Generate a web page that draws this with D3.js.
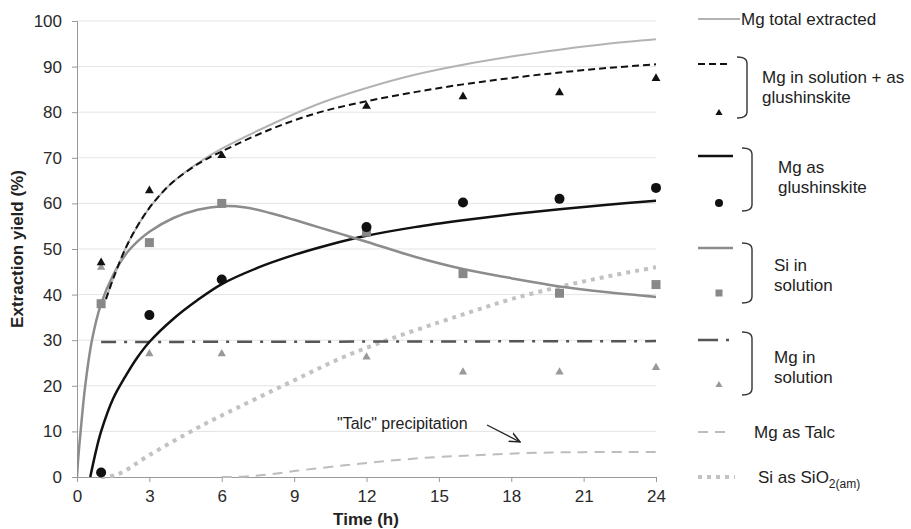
<!DOCTYPE html>
<html>
<head>
<meta charset="utf-8">
<script src="https://cdn.jsdelivr.net/npm/d3@7"></script>
<style>
  body { margin: 0; background: #fff; }
  svg { font-family: "Liberation Sans", Arial, sans-serif; }
</style>
</head>
<body>
<svg id="chart" width="911" height="529"></svg>
<script>
// measured points (h, %)
const times = [1, 3, 6, 12, 16, 20, 24];
const mgSolGlushPts = [47, 62.8, 70.5, 81.3, 83.4, 84.3, 87.4];
const mgGlushPts = [1, 35.5, 43.3, 54.8, 60.2, 61, 63.4];
const siSolPts = [38, 51.4, 60, 53.7, 44.6, 40.3, 42.2];
const mgSolPts = [46, 27, 27, 26.3, 23, 23, 24];

// fitted curves, [h, %]
const mgTotalFit = [[1.2,39],[1.5,43.5],[2,50],[2.5,55],[3,59],[3.5,62.2],[4,64.8],[5,68.8],[6,72],[8,77.2],[10,81.8],[12,85.3],[14,88.2],[16,90.4],[18,92.2],[20,93.7],[22,95],[24,96]];
const mgSolGlushFit = [[1.2,39],[1.5,43.5],[2,50],[2.5,55],[3,59],[3.5,62.2],[4,64.8],[5,68.6],[6,71.4],[8,76.2],[10,79.9],[12,82.4],[14,84.4],[16,86.1],[18,87.5],[20,88.7],[22,89.7],[24,90.5]];
const siSolFit = [[0,0],[0.05,4],[0.15,10],[0.34,20],[0.62,30],[1,38],[1.5,44.3],[2,48.7],[2.5,51.6],[3,53.8],[4,56.8],[5,58.6],[6,59.4],[7,59.1],[8,57.9],[9,56.4],[10,54.8],[11,53.2],[12,51.6],[14,48.3],[16,45.6],[18,43.6],[20,41.8],[22,40.5],[24,39.5]];
const mgGlushFit = [[0.55,0],[0.8,6],[1,10],[1.5,17.2],[2,22],[2.5,26.2],[3,29.6],[4,34.7],[5,38.8],[6,42.3],[7.5,45.9],[9,48.7],[10.5,51],[12,52.9],[14,54.8],[16,56.3],[18,57.6],[20,58.7],[22,59.7],[24,60.6]];
const mgSolFit = [[1,29.6],[24,29.8]];
const mgTalcFit = [[6,0],[7,0.1],[8,0.6],[9,1.3],[11,2.5],[13,3.6],[15,4.4],[17,4.9],[19,5.3],[21,5.45],[24,5.5]];
const siAmFit = [[1,0],[1.7,0.6],[3,4.8],[5,10.8],[6,13.5],[9,21.2],[11,26.2],[13,30.3],[15,33.9],[16.5,36.5],[18,39],[20,41.7],[22,44],[24,46]];

const xTicks = [0, 3, 6, 9, 12, 15, 18, 21, 24];
const yTicks = [0, 10, 20, 30, 40, 50, 60, 70, 80, 90, 100];

const svg = d3.select("#chart");
const x = d3.scaleLinear().domain([0, 24]).range([77, 656]);
const y = d3.scaleLinear().domain([0, 100]).range([477, 21]);

// gridlines
svg.append("g").selectAll("line")
    .data(yTicks.slice(1))
    .join("line")
    .attr("x1", x(0)).attr("x2", x(24))
    .attr("y1", d => y(d)).attr("y2", d => y(d))
    .attr("stroke", "#e4e4e4").attr("stroke-width", 1);

// axes
const xAxis = svg.append("g")
    .attr("transform", `translate(0,${y(0)})`)
    .call(d3.axisBottom(x).tickValues(xTicks).tickSize(5).tickPadding(8));
const yAxis = svg.append("g")
    .attr("transform", `translate(${x(0)},0)`)
    .call(d3.axisLeft(y).tickValues(yTicks).tickSize(5).tickPadding(10));
[xAxis, yAxis].forEach(a => {
    a.select(".domain").attr("stroke", "#999");
    a.selectAll(".tick line").attr("stroke", "#999");
    a.selectAll(".tick text").attr("fill", "#2a2a2a").style("font-size", "17px")
        .style("font-family", "'Liberation Sans', Arial, sans-serif");
});

svg.append("text")
    .attr("x", 366).attr("y", 525)
    .attr("text-anchor", "middle")
    .style("font-size", "17px").style("font-weight", "bold").attr("fill", "#222")
    .text("Time (h)");
svg.append("text")
    .attr("transform", "translate(23,249) rotate(-90)")
    .attr("text-anchor", "middle")
    .style("font-size", "17px").style("font-weight", "bold").attr("fill", "#222")
    .text("Extraction yield (%)");

// curves
svg.append("clipPath").attr("id", "plotClip")
    .append("rect").attr("x", x(0)).attr("y", y(100)).attr("width", x(24) - x(0)).attr("height", y(0) - y(100) + 2);

// catmull-rom goes through the read points but keeps the bends smooth
const line = d3.line().x(d => x(d[0])).y(d => y(d[1])).curve(d3.curveCatmullRom.alpha(0.5));
const curves = svg.append("g").attr("clip-path", "url(#plotClip)");

function drawCurve(pts, color, width, dash){
    curves.append("path")
        .datum(pts)
        .attr("d", line)
        .attr("fill", "none")
        .attr("stroke", color)
        .attr("stroke-width", width)
        .attr("stroke-dasharray", dash || null);
}

drawCurve(siAmFit, "#c2c2c2", 4, "4,5");
drawCurve(mgTalcFit, "#bdbdbd", 2, "10,7");
drawCurve(mgSolFit, "#555", 2.5, "15,8,3,8");
drawCurve(mgGlushFit, "#111", 2.5);
drawCurve(siSolFit, "#8c8c8c", 2.5);
drawCurve(mgTotalFit, "#b3b3b3", 2);
drawCurve(mgSolGlushFit, "#111", 2, "7,4");

// markers
const tri = d3.symbol().type(d3.symbolTriangle);
const marks = svg.append("g");

marks.selectAll(".mgsol")
    .data(times.map((t, i) => [t, mgSolPts[i]]))
    .join("path")
    .attr("transform", d => `translate(${x(d[0])},${y(d[1])})`)
    .attr("d", tri.size(30))
    .attr("fill", "#999");

marks.selectAll(".sisol")
    .data(times.map((t, i) => [t, siSolPts[i]]))
    .join("rect")
    .attr("x", d => x(d[0]) - 4.5).attr("y", d => y(d[1]) - 4.5)
    .attr("width", 9).attr("height", 9)
    .attr("fill", "#888");

marks.selectAll(".mgglush")
    .data(times.map((t, i) => [t, mgGlushPts[i]]))
    .join("circle")
    .attr("cx", d => x(d[0])).attr("cy", d => y(d[1]))
    .attr("r", 5)
    .attr("fill", "#111");

marks.selectAll(".mgsolglush")
    .data(times.map((t, i) => [t, mgSolGlushPts[i]]))
    .join("path")
    .attr("transform", d => `translate(${x(d[0])},${y(d[1])})`)
    .attr("d", tri.size(34))
    .attr("fill", "#111");

// "Talc" precipitation note
svg.append("defs").append("marker")
    .attr("id", "arrow").attr("viewBox", "0 0 10 10")
    .attr("refX", 9).attr("refY", 5)
    .attr("markerWidth", 9).attr("markerHeight", 9)
    .attr("orient", "auto")
    .append("path").attr("d", "M0,1 L9,5 L0,9").attr("fill", "none").attr("stroke", "#222").attr("stroke-width", 1.3);
svg.append("text")
    .attr("x", 337).attr("y", 429)
    .style("font-size", "16px").attr("fill", "#222")
    .text('"Talc" precipitation');
svg.append("line")
    .attr("x1", 487).attr("y1", 425).attr("x2", 520).attr("y2", 442)
    .attr("stroke", "#222").attr("stroke-width", 1.3)
    .attr("marker-end", "url(#arrow)");

// legend
const lg = svg.append("g");
function legText(xp, yc, lines){
    const t = lg.append("text").attr("x", xp).attr("y", yc + 6)
        .style("font-size", "17px").attr("fill", "#222");
    lines.forEach((s, i) => t.append("tspan").attr("x", xp).attr("dy", i ? 20 : 0).text(s));
    return t;
}
function legLine(yc, color, width, dash, x2){
    lg.append("line").attr("x1", 698).attr("x2", x2 || 733).attr("y1", yc).attr("y2", yc)
        .attr("stroke", color).attr("stroke-width", width).attr("stroke-dasharray", dash || null);
}
function bracket(xb, y1, y2){
    lg.append("path")
        .attr("d", `M${xb - 10},${y1} Q${xb},${y1} ${xb},${y1 + 6} L${xb},${y2 - 6} Q${xb},${y2} ${xb - 10},${y2}`)
        .attr("fill", "none").attr("stroke", "#333").attr("stroke-width", 1.4);
}

legLine(19, "#b3b3b3", 2, null, 740);
legText(741, 19, ["Mg total extracted"]);

legLine(64, "#111", 2, "7,4", 730);
lg.append("path").attr("transform", "translate(719,113)").attr("d", tri.size(22)).attr("fill", "#111");
bracket(747, 57, 118);
legText(762, 77, ["Mg in solution + as", "glushinskite"]);

legLine(156, "#111", 2.5);
lg.append("circle").attr("cx", 719).attr("cy", 203).attr("r", 4).attr("fill", "#111");
bracket(752, 148, 211);
legText(778, 167, ["Mg as", "glushinskite"]);

legLine(248, "#8c8c8c", 2.5);
lg.append("rect").attr("x", 715.5).attr("y", 289.5).attr("width", 7).attr("height", 7).attr("fill", "#888");
bracket(752, 243, 303);
legText(774, 265, ["Si in", "solution"]);

legLine(340, "#555", 2.5, "20,8,3,8");
lg.append("path").attr("transform", "translate(719,385)").attr("d", tri.size(22)).attr("fill", "#999");
bracket(752, 332, 395);
legText(774, 357, ["Mg in", "solution"]);

legLine(432, "#bdbdbd", 2, "10,7", 731);
legText(754, 432, ["Mg as Talc"]);

legLine(477, "#c2c2c2", 4, "4,5", 735);
const si = legText(758, 477, ["Si as SiO"]);
si.append("tspan").attr("dy", 5).style("font-size", "12px").text("2(am)");
</script>
</body>
</html>
